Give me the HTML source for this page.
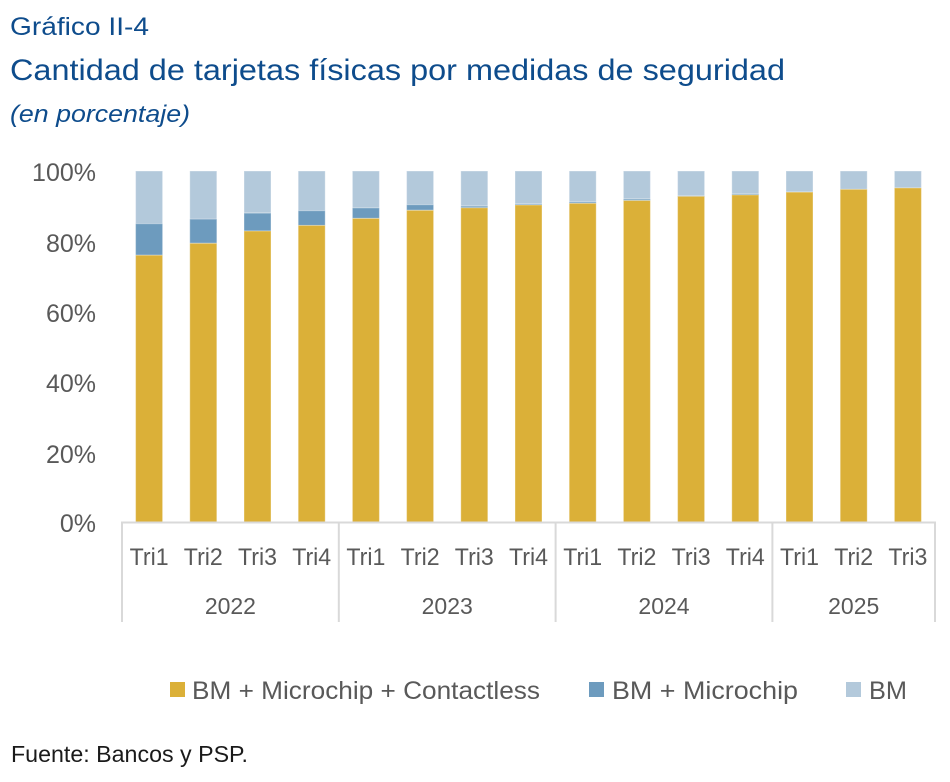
<!DOCTYPE html>
<html><head><meta charset="utf-8"><style>
html,body{margin:0;padding:0;background:#fff;}
svg{display:block;}
</style></head><body>
<svg width="950" height="782" viewBox="0 0 950 782" xmlns="http://www.w3.org/2000/svg" font-family="Liberation Sans, Arial, sans-serif">
<rect width="950" height="782" fill="#fff"/>
<text x="10" y="35" font-size="25" fill="#0E4C8C" textLength="139" lengthAdjust="spacingAndGlyphs">Gráfico II-4</text>
<text x="10" y="80" font-size="30" fill="#0E4C8C" textLength="775" lengthAdjust="spacingAndGlyphs">Cantidad de tarjetas físicas por medidas de seguridad</text>
<text x="10" y="122" font-size="24" font-style="italic" fill="#0E4C8C" textLength="180" lengthAdjust="spacingAndGlyphs">(en porcentaje)</text>

<g font-size="25" fill="#595959" text-anchor="end">
<text x="96" y="181">100%</text>
<text x="96" y="252">80%</text>
<text x="96" y="322">60%</text>
<text x="96" y="392">40%</text>
<text x="96" y="463">20%</text>
<text x="96" y="532">0%</text>
</g>

<g stroke="#ffffff" stroke-opacity="0.35" stroke-width="1">
<rect x="135.6" y="171" width="27" height="127.7" fill="#B3C9DB"/>
<rect x="135.6" y="223.7" width="27" height="31.6" fill="#6D9BBE"/>
<rect x="135.6" y="255.2" width="27" height="266.8" fill="#DBB038"/>
<rect x="189.8" y="171" width="27" height="122" fill="#B3C9DB"/>
<rect x="189.8" y="219.1" width="27" height="24.2" fill="#6D9BBE"/>
<rect x="189.8" y="243.3" width="27" height="278.7" fill="#DBB038"/>
<rect x="244" y="171" width="27" height="42" fill="#B3C9DB"/>
<rect x="244" y="213.1" width="27" height="18" fill="#6D9BBE"/>
<rect x="244" y="231" width="27" height="291" fill="#DBB038"/>
<rect x="298.2" y="171" width="27" height="40" fill="#B3C9DB"/>
<rect x="298.2" y="210.7" width="27" height="14.8" fill="#6D9BBE"/>
<rect x="298.2" y="225.4" width="27" height="296.6" fill="#DBB038"/>
<rect x="352.4" y="171" width="27" height="37" fill="#B3C9DB"/>
<rect x="352.4" y="207.9" width="27" height="10.5" fill="#6D9BBE"/>
<rect x="352.4" y="218.4" width="27" height="303.6" fill="#DBB038"/>
<rect x="406.6" y="171" width="27" height="34" fill="#B3C9DB"/>
<rect x="406.6" y="204.7" width="27" height="5.6" fill="#6D9BBE"/>
<rect x="406.6" y="210.3" width="27" height="311.7" fill="#DBB038"/>
<rect x="460.8" y="171" width="27" height="35" fill="#B3C9DB"/>
<rect x="460.8" y="206.1" width="27" height="1.8" fill="#6D9BBE"/>
<rect x="460.8" y="207.8" width="27" height="314.2" fill="#DBB038"/>
<rect x="515" y="171" width="27" height="33" fill="#B3C9DB"/>
<rect x="515" y="204" width="27" height="1.2" fill="#6D9BBE"/>
<rect x="515" y="205" width="27" height="317" fill="#DBB038"/>
<rect x="569.2" y="171" width="27" height="31" fill="#B3C9DB"/>
<rect x="569.2" y="201.9" width="27" height="1.5" fill="#6D9BBE"/>
<rect x="569.2" y="203.3" width="27" height="318.7" fill="#DBB038"/>
<rect x="623.4" y="171" width="27" height="28" fill="#B3C9DB"/>
<rect x="623.4" y="199.1" width="27" height="1.5" fill="#6D9BBE"/>
<rect x="623.4" y="200.5" width="27" height="321.5" fill="#DBB038"/>
<rect x="677.6" y="171" width="27" height="25" fill="#B3C9DB"/>
<rect x="677.6" y="195.9" width="27" height="0.8" fill="#6D9BBE"/>
<rect x="677.6" y="196.3" width="27" height="325.7" fill="#DBB038"/>
<rect x="731.8" y="171" width="27" height="23" fill="#B3C9DB"/>
<rect x="731.8" y="193.9" width="27" height="1.2" fill="#6D9BBE"/>
<rect x="731.8" y="194.9" width="27" height="327.1" fill="#DBB038"/>
<rect x="786" y="171" width="27" height="21" fill="#B3C9DB"/>
<rect x="786" y="191.7" width="27" height="0.5" fill="#6D9BBE"/>
<rect x="786" y="192.1" width="27" height="329.9" fill="#DBB038"/>
<rect x="840.2" y="171" width="27" height="18.5" fill="#B3C9DB"/>
<rect x="840.2" y="189.3" width="27" height="332.7" fill="#DBB038"/>
<rect x="894.4" y="171" width="27" height="17" fill="#B3C9DB"/>
<rect x="894.4" y="187.9" width="27" height="334.1" fill="#DBB038"/>
</g>

<g stroke="#D9D9D9" stroke-width="2" fill="none">
<line x1="121" y1="522.5" x2="936" y2="522.5"/>
<line x1="122" y1="522" x2="122" y2="622"/>
<line x1="338.8" y1="522" x2="338.8" y2="622"/>
<line x1="555.6" y1="522" x2="555.6" y2="622"/>
<line x1="772.4" y1="522" x2="772.4" y2="622"/>
<line x1="935" y1="522" x2="935" y2="622"/>
</g>

<g font-size="24" fill="#595959" text-anchor="middle">
<text x="149.1" y="565" textLength="39" lengthAdjust="spacingAndGlyphs">Tri1</text>
<text x="203.3" y="565" textLength="39" lengthAdjust="spacingAndGlyphs">Tri2</text>
<text x="257.5" y="565" textLength="39" lengthAdjust="spacingAndGlyphs">Tri3</text>
<text x="311.7" y="565" textLength="39" lengthAdjust="spacingAndGlyphs">Tri4</text>
<text x="365.9" y="565" textLength="39" lengthAdjust="spacingAndGlyphs">Tri1</text>
<text x="420.1" y="565" textLength="39" lengthAdjust="spacingAndGlyphs">Tri2</text>
<text x="474.3" y="565" textLength="39" lengthAdjust="spacingAndGlyphs">Tri3</text>
<text x="528.5" y="565" textLength="39" lengthAdjust="spacingAndGlyphs">Tri4</text>
<text x="582.7" y="565" textLength="39" lengthAdjust="spacingAndGlyphs">Tri1</text>
<text x="636.9" y="565" textLength="39" lengthAdjust="spacingAndGlyphs">Tri2</text>
<text x="691.1" y="565" textLength="39" lengthAdjust="spacingAndGlyphs">Tri3</text>
<text x="745.3" y="565" textLength="39" lengthAdjust="spacingAndGlyphs">Tri4</text>
<text x="799.5" y="565" textLength="39" lengthAdjust="spacingAndGlyphs">Tri1</text>
<text x="853.7" y="565" textLength="39" lengthAdjust="spacingAndGlyphs">Tri2</text>
<text x="907.9" y="565" textLength="39" lengthAdjust="spacingAndGlyphs">Tri3</text>
</g>
<g font-size="23" fill="#595959" text-anchor="middle">
<text x="230.4" y="614">2022</text>
<text x="447.2" y="614">2023</text>
<text x="664" y="614">2024</text>
<text x="853.7" y="614">2025</text>
</g>

<rect x="170" y="682" width="15" height="15" fill="#DBB038"/>
<text x="192" y="699" font-size="25" fill="#595959" textLength="348" lengthAdjust="spacingAndGlyphs">BM + Microchip + Contactless</text>
<rect x="589" y="682" width="15" height="15" fill="#6D9BBE"/>
<text x="612" y="699" font-size="25" fill="#595959" textLength="186" lengthAdjust="spacingAndGlyphs">BM + Microchip</text>
<rect x="846" y="682" width="15" height="15" fill="#B3C9DB"/>
<text x="869" y="699" font-size="25" fill="#595959" textLength="38" lengthAdjust="spacingAndGlyphs">BM</text>

<text x="11" y="762" font-size="23" fill="#1a1a1a" textLength="237" lengthAdjust="spacingAndGlyphs">Fuente: Bancos y PSP.</text>
</svg>
</body></html>
